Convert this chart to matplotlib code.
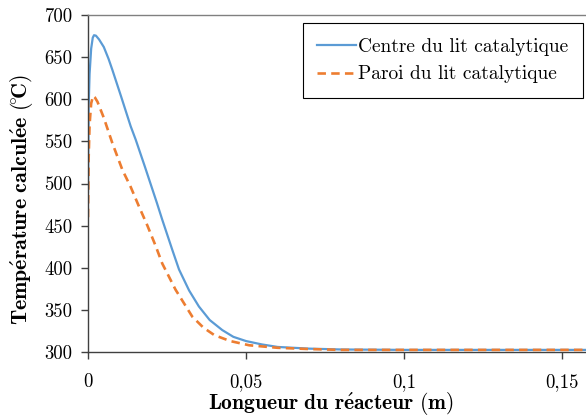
import matplotlib
matplotlib.use("Agg")
import matplotlib.pyplot as plt

# Data
x_centre = [0, 0.0002, 0.0005, 0.001, 0.0015, 0.0019, 0.0025, 0.0035, 0.005, 0.0065,
            0.0077, 0.0105, 0.0135, 0.0151, 0.018, 0.0218, 0.0235, 0.0267, 0.0288,
            0.032, 0.0351, 0.0385, 0.0425, 0.046, 0.05, 0.055, 0.06, 0.07, 0.08,
            0.1, 0.12, 0.1576]
t_centre = [490, 590, 630, 660, 673, 676, 675.5, 671, 662, 648,
            635, 603, 568, 552, 520, 477, 457, 421, 398,
            373, 354, 338, 326, 318, 313, 309, 306, 304, 303,
            302.5, 302.5, 302.5]

x_paroi = [0, 0.0002, 0.0005, 0.001, 0.0016, 0.0022, 0.003, 0.005, 0.0077, 0.0109,
           0.0135, 0.0161, 0.0188, 0.0214, 0.0235, 0.0277, 0.033, 0.0365, 0.040,
           0.045, 0.051, 0.06, 0.07, 0.08, 0.1, 0.12, 0.1576]
t_paroi = [460, 530, 570, 595, 604, 602, 597, 578, 548, 516,
           496, 473, 450, 426, 405, 374, 342, 329, 320,
           313, 308, 305, 303.5, 302.5, 302.5, 302.5, 302.5]

x_ticks = [0, 0.05, 0.1, 0.15]
x_tick_labels = ["0", "0,05", "0,1", "0,15"]
y_ticks = [300, 350, 400, 450, 500, 550, 600, 650, 700]
y_tick_labels = [str(v) for v in y_ticks]

label_centre = "Centre du lit catalytique"
label_paroi = "Paroi du lit catalytique"
x_label = r"$\mathbf{Longueur\ du\ r\acute{e}acteur\ (m)}$"
y_label = r"$\mathbf{Temp\acute{e}rature\ calcul\acute{e}e\ (\!^{\circ}\!C)}$"

plt.rcParams["mathtext.fontset"] = "cm"
plt.rcParams["font.family"] = ["cmr10", "DejaVu Serif"]
plt.rcParams["axes.unicode_minus"] = False

fig = plt.figure(figsize=(5.86, 4.16), dpi=100)
ax = fig.add_axes([88 / 586, 64 / 416, 1 - 88 / 586, (352 - 15) / 416])

ax.plot(x_centre, t_centre, color="#5B9BD5", lw=1.6, label=label_centre)
ax.plot(x_paroi, t_paroi, color="#ED7D31", lw=1.9, dashes=(3.2, 2.0), label=label_paroi)

ax.set_xlim(0, 0.1576)
ax.set_ylim(300, 700)
ax.set_xticks(x_ticks)
ax.set_xticklabels(x_tick_labels)
ax.set_yticks(y_ticks)
ax.set_yticklabels(y_tick_labels)

ax.tick_params(axis="both", direction="out", length=5, width=1, color="#404040",
               labelsize=13.5, labelcolor="black")
ax.tick_params(axis="x", pad=10)
ax.tick_params(axis="y", pad=6)

for side in ["left", "bottom"]:
    ax.spines[side].set_color("#404040")
    ax.spines[side].set_linewidth(1.0)
ax.spines["top"].set_color("#808080")
ax.spines["top"].set_linewidth(1.0)
ax.spines["right"].set_visible(False)

ax.set_xlabel(x_label, fontsize=15.5)
ax.set_ylabel(y_label, fontsize=15.8)
ax.xaxis.set_label_coords(0.488, -0.114)
ax.yaxis.set_label_coords(-0.107, 0.452)

leg = ax.legend(loc="upper right", bbox_to_anchor=(0.994, 0.976), borderaxespad=0,
                fancybox=False, framealpha=1, edgecolor="black", fontsize=14,
                handlelength=2.0, handletextpad=0.1, borderpad=0.75, labelspacing=0.5)
leg.get_frame().set_linewidth(0.8)

fig.savefig("out.png", dpi=100)
